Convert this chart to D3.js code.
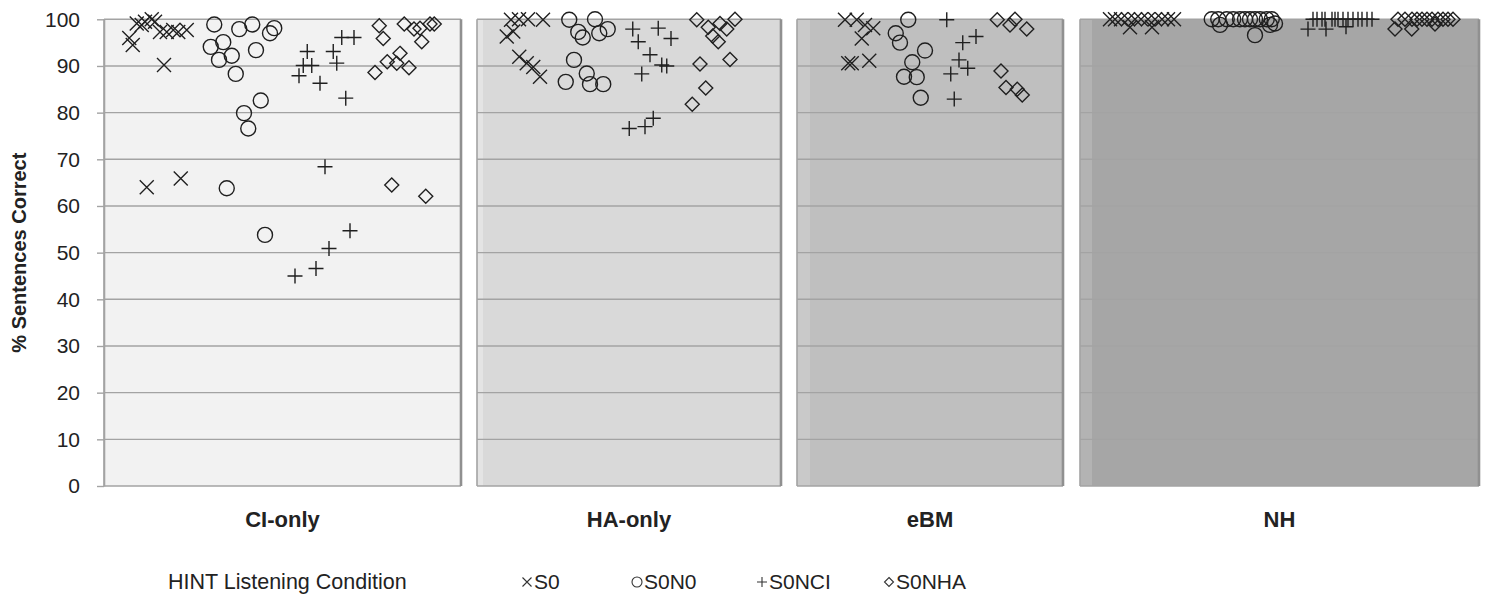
<!DOCTYPE html>
<html><head><meta charset="utf-8">
<script src="https://cdn.jsdelivr.net/npm/d3@7"></script>
<style>
body{margin:0;background:#fff;}
svg{display:block;font-family:"Liberation Sans",Arial,sans-serif;}
</style>
</head><body>
<svg id="chart" width="1491" height="597"></svg>
<script>
// ---------- data ----------
const panels = ["CI-only", "HA-only", "eBM", "NH"];
// panel extents on the jitter axis (0..55)
const panelStart = [0, 14.92, 27.72, 39.04];
const panelEnd = [14.28, 27.08, 38.36, 55];
const yTicks = [0, 10, 20, 30, 40, 50, 60, 70, 80, 90, 100];
const seriesNames = ["S0", "S0N0", "S0NCI", "S0NHA"];
const legendTitle = "HINT Listening Condition";
const yTitle = "% Sentences Correct";

// S0 (x marks)
const S0_x = [
  1.01,1.15,1.31,1.51,1.64,1.91,2.04,2.24,2.51,2.77,2.97,3.31,2.40,1.71,3.07,   // CI-only
  16.28,16.6,16.96,17.56,16.11,16.37,16.61,16.91,17.17,17.44,                   // HA-only
  29.64,30.11,30.44,30.77,30.31,29.77,29.91,30.61,                              // eBM
  40.24,40.44,40.68,40.96,41.24,41.48,41.76,42.04,42.32,42.56,42.80,41.04,41.92 // NH
];
const S0_y = [
  96.0,94.5,99.1,98.8,99.5,100,99.5,97.3,97.3,97.7,97.3,97.7,90.2,64.0,65.9,
  99.9,100,100,99.9,96.3,97.4,92.0,90.6,89.8,87.7,
  99.9,99.9,98.8,98.1,95.9,90.6,90.6,91.1,
  100,100,100,100,100,100,100,100,100,100,100,98.3,98.3
];

// S0N0 (circles)
const S0N0_x = [
  4.41,5.41,5.93,6.64,6.81,4.27,4.77,4.60,5.11,6.08,5.27,6.27,5.60,5.77,4.91,6.44,
  18.61,19.64,18.97,19.15,19.81,20.15,18.8,19.31,18.47,19.44,19.97,
  32.17,31.67,31.84,32.84,32.33,32.0,32.51,32.67,
  44.31,44.57,44.91,45.17,45.44,45.64,45.84,46.04,46.24,46.51,46.71,44.64,46.04,46.84,46.64
];
const S0N0_y = [
  98.9,97.9,98.9,97.0,98.1,94.1,95.1,91.3,92.2,93.4,88.3,82.6,79.9,76.6,63.8,53.8,
  99.9,100,97.3,96.1,97.0,97.9,91.3,88.4,86.6,86.1,86.1,
  99.9,97.0,95.0,93.3,90.8,87.7,87.6,83.2,
  100,100,100,100,100,100,100,100,100,100,100,98.8,96.6,99.1,98.8
];

// S0NCI (plus)
const S0NCI_x = [
  8.13,9.17,9.51,10.0,7.97,8.31,9.31,7.80,8.64,9.67,8.84,9.84,9.0,8.48,7.64,
  21.15,22.17,21.37,22.68,21.84,22.31,22.51,21.51,21.97,21.64,21.01,
  33.71,34.35,34.88,34.2,34.55,33.87,34.01,
  48.36,48.52,48.72,48.84,49.12,49.24,49.36,49.56,49.76,49.96,50.16,50.32,50.52,50.72,48.16,48.88,49.68
];
const S0NCI_y = [
  93.1,93.1,96.1,96.1,90.1,90.1,90.6,87.9,86.3,83.1,68.4,54.7,50.9,46.6,45.0,
  97.9,98.1,95.2,95.9,92.4,90.2,90.0,88.3,78.8,77.0,76.6,
  99.9,95.0,96.3,91.3,89.5,88.3,82.9,
  100,100,100,100,100,100,100,100,100,100,100,100,100,100,97.9,97.9,98.4
];

// S0NHA (diamonds)
const S0NHA_x = [
  11.01,11.17,12.01,12.4,12.64,13.04,13.21,12.71,11.84,11.33,11.71,12.2,10.84,11.51,12.87,
  23.71,24.17,24.64,24.91,25.24,24.35,24.57,23.84,25.04,24.07,23.53,
  35.73,36.44,36.24,36.91,35.88,36.08,36.53,36.73,
  51.76,52.04,52.32,52.52,52.72,52.92,53.12,53.36,53.56,53.76,53.96,51.64,52.31,53.24
];
const S0NHA_y = [
  98.6,95.9,99.0,97.9,98.1,99.0,99.0,95.2,92.7,90.9,90.6,89.6,88.6,64.5,62.1,
  99.9,98.3,99.1,97.9,100,96.4,95.2,90.4,91.4,85.3,81.8,
  99.9,100,98.8,97.9,88.9,85.4,85.0,83.8,
  100,100,100,100,100,100,100,100,100,100,100,97.9,97.9,99.0
];

// ---------- styles ----------
const panelFill = ["#f2f2f2", "#d9d9d9", "#bfbfbf", "#a6a6a6"];
const stripFill = ["#f2f2f2", "#e4e4e4", "#c9c9c9", "#b3b3b3"];
const stripW = [0, 6, 13, 12];
const ink = "#1f1f1f";

const svg = d3.select("#chart");
const x = d3.scaleLinear().domain([0, 55]).range([104, 1479]);
const y = d3.scaleLinear().domain([0, 100]).range([486, 19.3]);

// panels
const pg = svg.append("g");
panels.forEach((p, i) => {
  const x0 = x(panelStart[i]), x1 = x(panelEnd[i]);
  pg.append("rect").attr("x", x0).attr("y", y(100)).attr("width", x1 - x0)
    .attr("height", y(0) - y(100)).attr("fill", panelFill[i]);
  if (stripW[i] > 0) {
    pg.append("rect").attr("x", x0).attr("y", y(100)).attr("width", stripW[i])
      .attr("height", y(0) - y(100)).attr("fill", stripFill[i]);
  }
  // gridlines
  pg.selectAll(null).data(yTicks).enter().append("line")
    .attr("x1", x0).attr("x2", x1)
    .attr("y1", d => y(d)).attr("y2", d => y(d))
    .attr("stroke", "#a3a3a3").attr("stroke-width", 1.4);
  // borders
  pg.append("line").attr("x1", x0).attr("x2", x0).attr("y1", y(100)).attr("y2", y(0))
    .attr("stroke", "#a3a3a3").attr("stroke-width", 1.6);
  pg.append("line").attr("x1", x1).attr("x2", x1).attr("y1", y(100)).attr("y2", y(0))
    .attr("stroke", "#909090").attr("stroke-width", 2.6);
  // category label
  svg.append("text").attr("x", (x0 + x1) / 2).attr("y", 527)
    .attr("text-anchor", "middle").attr("font-size", 22).attr("font-weight", "bold")
    .attr("fill", "#222").text(p);
});

// y axis
const yAxis = svg.append("g").attr("transform", `translate(${x(0)},0)`)
  .call(d3.axisLeft(y).tickValues(yTicks).tickSize(7).tickSizeOuter(0).tickPadding(17));
yAxis.select(".domain").attr("stroke", "#a3a3a3").attr("stroke-width", 1.6);
yAxis.selectAll(".tick line").attr("stroke", "#a3a3a3").attr("stroke-width", 1.4);
yAxis.selectAll(".tick text").attr("font-size", 21).attr("fill", "#222")
  .attr("font-family", '"Liberation Sans",Arial,sans-serif');

svg.append("text").attr("transform", `translate(26,${(y(0) + y(100)) / 2}) rotate(-90)`)
  .attr("text-anchor", "middle").attr("font-size", 20).attr("font-weight", "bold")
  .attr("fill", "#222").text(yTitle);

// markers
function drawMarker(g, type, s) {
  if (type === 0) g.append("path").attr("d", `M${-s},${-s}L${s},${s}M${-s},${s}L${s},${-s}`);
  else if (type === 1) g.append("circle").attr("r", s);
  else if (type === 2) g.append("path").attr("d", `M${-s},0H${s}M0,${-s}V${s}`);
  else g.append("path").attr("d", `M0,${-s}L${s},0L0,${s}L${-s},0Z`);
}
const seriesX = [S0_x, S0N0_x, S0NCI_x, S0NHA_x];
const seriesY = [S0_y, S0N0_y, S0NCI_y, S0NHA_y];
const markerSize = [7, 7.5, 7.5, 7];
const mg = svg.append("g").attr("fill", "none").attr("stroke", ink).attr("stroke-width", 1.4);
seriesNames.forEach((name, si) => {
  seriesX[si].forEach((xv, k) => {
    const g = mg.append("g").attr("transform", `translate(${x(xv)},${y(seriesY[si][k])})`);
    drawMarker(g, si, markerSize[si]);
  });
});

// legend
svg.append("text").attr("x", 168).attr("y", 589).attr("font-size", 21.5)
  .attr("fill", "#222").text(legendTitle);
const legX = [527, 637, 762, 889];
const legMarkerSize = [4.5, 5, 5, 4.5];
seriesNames.forEach((name, i) => {
  const g = svg.append("g").attr("transform", `translate(${legX[i]},582)`)
    .attr("fill", "none").attr("stroke", "#333").attr("stroke-width", 1.1);
  drawMarker(g, i, legMarkerSize[i]);
  svg.append("text").attr("x", legX[i] + 7).attr("y", 589).attr("font-size", 21)
    .attr("fill", "#222").text(name);
});
</script>
</body></html>
